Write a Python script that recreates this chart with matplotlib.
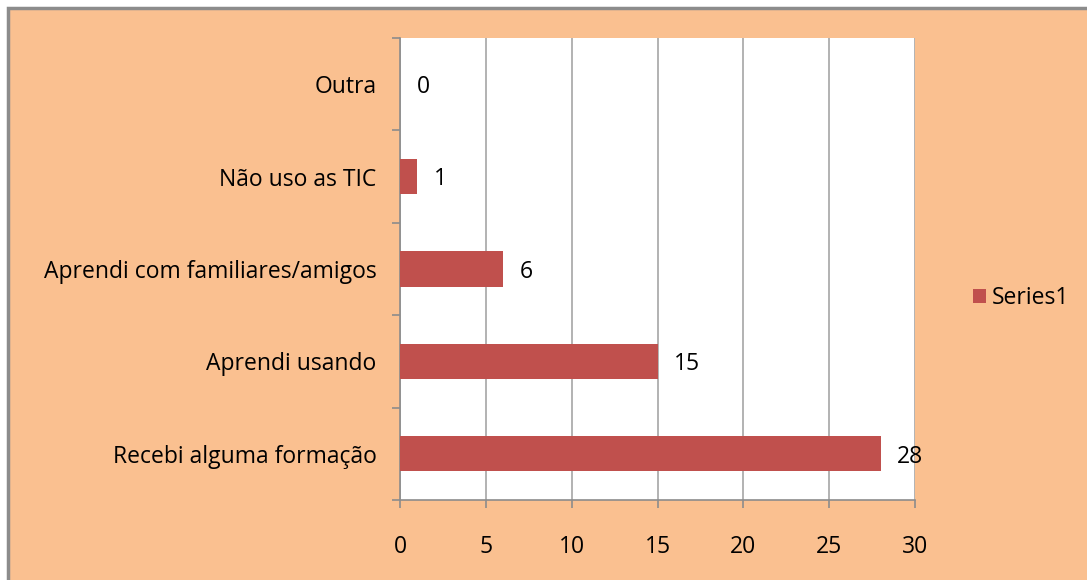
import matplotlib.pyplot as plt
from matplotlib.patches import Rectangle

# data
categorias = ['Recebi alguma formação', 'Aprendi usando', 'Aprendi com familiares/amigos',
              'Não uso as TIC', 'Outra']
valores = [28, 15, 6, 1, 0]
serie = 'Series1'

plt.rcParams['font.family'] = ['Open Sans', 'DejaVu Sans']
fs = 16.5

fig = plt.figure(figsize=(10.87, 5.80), dpi=100)
fig.patch.set_facecolor('white')
# orange chart area with gray border
bg = Rectangle((8 / 1087, -0.05), 1.1, 1 - 8 / 580 + 0.05,
               transform=fig.transFigure, facecolor='#FAC090',
               edgecolor='#8C8C8C', linewidth=2.5, zorder=-10)
fig.patches.append(bg)

ax = fig.add_axes([400 / 1087, 1 - 500 / 580, 515 / 1087, 462 / 580])
ax.set_facecolor('white')

pos = range(len(categorias))
ax.barh(pos, valores, height=0.38, color='#C0504D', label=serie, zorder=3)

for p, v in zip(pos, valores):
    ax.annotate(str(v), (v, p), xytext=(12, -2), textcoords='offset points',
                ha='left', va='center', fontsize=fs, color='black', zorder=4)

ax.set_xlim(0, 30)
ax.set_ylim(-0.5, len(categorias) - 0.5)
ax.set_xticks(range(0, 31, 5))
ax.set_yticks([p - 0.5 for p in range(len(categorias) + 1)], minor=False)
ax.set_yticklabels([])
ax.set_yticks(list(pos), minor=True)
ax.set_yticklabels(categorias, minor=True)
ax.tick_params(axis='y', which='minor', length=0, pad=17, labelsize=fs)
ax.tick_params(axis='y', which='major', length=6, color='#8C8C8C', width=1.2)
ax.tick_params(axis='x', length=6, color='#8C8C8C', width=1.2, labelsize=fs, pad=19)

ax.grid(axis='x', color='#A6A6A6', linewidth=1.2, zorder=0)
for s in ['top', 'right']:
    ax.spines[s].set_visible(False)
for s in ['left', 'bottom']:
    ax.spines[s].set_color('#8C8C8C')
    ax.spines[s].set_linewidth(1.2)

fig.legend(loc='center left', bbox_to_anchor=(952 / 1087, 1 - 298 / 580), frameon=False,
           fontsize=fs, handlelength=0.6, handleheight=0.6, handletextpad=0.25)

fig.savefig('out.png', dpi=100, facecolor=fig.get_facecolor())
